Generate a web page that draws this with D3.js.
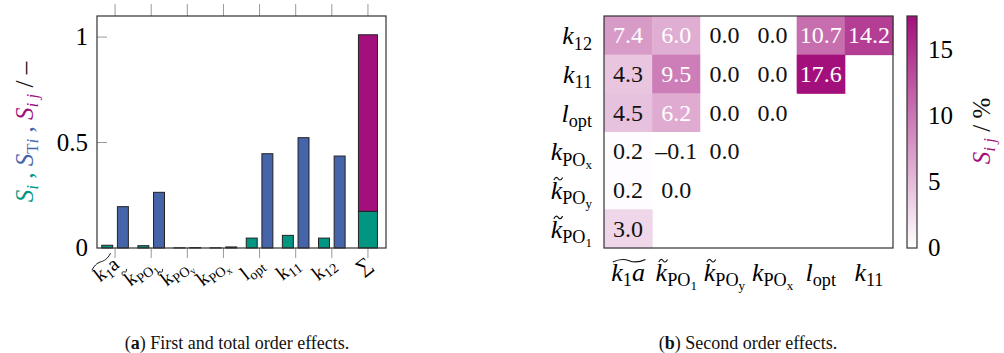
<!DOCTYPE html>
<html>
<head>
<meta charset="utf-8">
<script src="https://cdn.jsdelivr.net/npm/d3@7"></script>
</head>
<body style="margin:0">
<svg id="chart" width="1004" height="353"></svg>
<script>
// ---- data ----
var barCats = ["k1a", "kPO1", "kPOy", "kPOx", "lopt", "k11", "k12"];
var firstOrder = [0.013, 0.011, 0.001, 0.001, 0.047, 0.060, 0.047];
var totalOrder = [0.196, 0.264, 0.002, 0.005, 0.447, 0.523, 0.436];
var sumFirst = 0.174;
var sumSecond = 0.837;
var yTicks = [0, 0.5, 1];

var heatRows = ["k12", "k11", "lopt", "kPOx", "kPOy", "kPO1"];
var heatCols = ["k1a", "kPO1", "kPOy", "kPOx", "lopt", "k11"];
var sij = [
    [7.4, 6.0, 0.0, 0.0, 10.7, 14.2],
    [4.3, 9.5, 0.0, 0.0, 17.6, null],
    [4.5, 6.2, 0.0, 0.0, null, null],
    [0.2, -0.1, 0.0, null, null, null],
    [0.2, 0.0, null, null, null, null],
    [3.0, null, null, null, null, null]
];
var cbTicks = [0, 5, 10, 15];
var cbMax = 17.6;

var green = "#009682", blue = "#4664AA", violet = "#A3107C";
var FONT = "Liberation Serif";

// label markup: [text, level, italic]
var labelParts = {
    k1a:  { wide: true, parts: [["k", 0, true], ["1", 1, false], ["a", 0, true]] },
    kPO1: { tilde: true, parts: [["k", 0, true], ["PO", 1, false], ["1", 2, false]] },
    kPOy: { tilde: true, parts: [["k", 0, true], ["PO", 1, false], ["y", 2, false]] },
    kPOx: { parts: [["k", 0, true], ["PO", 1, false], ["x", 2, false]] },
    lopt: { parts: [["l", 0, true], ["opt", 1, false]] },
    k11:  { parts: [["k", 0, true], ["11", 1, false]] },
    k12:  { parts: [["k", 0, true], ["12", 1, false]] },
    sum:  { parts: [["\u2211", 0, false]] }
};

var svg = d3.select("#chart");

function txt(parent, size) {
    return parent.append("text")
        .attr("font-family", FONT)
        .style("font-family", FONT, "important")
        .style("font-size", size + "px");
}

function tilde(g, x0, w, y, size) {
    var a = size * 0.05;
    g.append("path")
        .attr("d", "M" + x0 + "," + (y + a) +
            " C" + (x0 + w * 0.25) + "," + (y - 2 * a) + " " + (x0 + w * 0.4) + "," + (y - a) + " " + (x0 + w * 0.5) + "," + y +
            " C" + (x0 + w * 0.6) + "," + (y + a) + " " + (x0 + w * 0.75) + "," + (y + 2 * a) + " " + (x0 + w) + "," + (y - a))
        .attr("fill", "none")
        .attr("stroke", "#111")
        .attr("stroke-width", size * 0.045);
}

// draws a label inside group g; widths for the tilde marks are measured after layout
function drawLabel(g, key, size, anchor, italicOn, yOff) {
    var info = labelParts[key];
    var y0 = yOff || 0;
    var t = txt(g, size).attr("text-anchor", anchor).attr("y", y0);
    var prevOff = 0;
    info.parts.forEach(function (p) {
        var lvl = p[1];
        var fs = size * [1, 0.7, 0.5][lvl];
        var off = [0, size * 0.2, size * 0.34][lvl];
        t.append("tspan")
            .attr("dy", (off - prevOff).toFixed(2))
            .style("font-size", fs + "px")
            .style("font-style", (p[2] && italicOn) ? "italic" : "normal")
            .text(p[0]);
        prevOff = off;
    });
    if (info.wide || info.tilde) {
        pending.push(function () {
            var b = t.node().getBBox();
            if (info.wide) {
                tilde(g, b.x + size * 0.06, b.width - size * 0.04, y0 - size * 0.78, size);
            } else {
                tilde(g, b.x + size * (italicOn ? 0.12 : 0.04), size * 0.34, y0 - size * 0.78, size);
            }
        });
    }
    return t;
}
var pending = [];

// ---- left panel: first and total order ----
var left = { x0: 97, x1: 386, y0: 16, y1: 248 };
var allCats = barCats.concat(["sum"]);

var xScale = d3.scaleBand().domain(allCats).range([left.x0, left.x1]);
var yScale = d3.scaleLinear().domain([0, 1.1]).range([left.y1, left.y0]);
var subScale = d3.scaleBand().domain(["Si", "STi"]).range([-13.3, 13.3]).paddingInner(0.3);

function cx(c) { return xScale(c) + xScale.bandwidth() / 2; }

var barData = barCats.map(function (c, i) { return { cat: c, Si: firstOrder[i], STi: totalOrder[i] }; });

// x ticks top and bottom
svg.append("g").selectAll("line.tt")
    .data(allCats).enter().append("line")
    .attr("x1", cx).attr("x2", cx)
    .attr("y1", left.y0 - 12).attr("y2", left.y0)
    .attr("stroke", "#999").attr("stroke-width", 1);
svg.append("g").selectAll("line.tb")
    .data(allCats).enter().append("line")
    .attr("x1", cx).attr("x2", cx)
    .attr("y1", left.y1).attr("y2", left.y1 + 10)
    .attr("stroke", "#999").attr("stroke-width", 1);

// y ticks
svg.append("g").selectAll("line")
    .data(yTicks.filter(function (d) { return d > 0; })).enter().append("line")
    .attr("x1", left.x0).attr("x2", left.x0 + 10)
    .attr("y1", yScale).attr("y2", yScale)
    .attr("stroke", "#999").attr("stroke-width", 1);
var yAxisG = svg.append("g");
yTicks.forEach(function (d) {
    txt(yAxisG, 25)
        .attr("x", left.x0 - 9)
        .attr("y", yScale(d) + 8)
        .attr("text-anchor", "end")
        .text(d == 0.5 ? "0.5" : d);
});

// bars
svg.append("g").selectAll("rect")
    .data(barData).enter().append("rect")
    .attr("x", function (d) { return cx(d.cat) + subScale("Si"); })
    .attr("y", function (d) { return yScale(d.Si); })
    .attr("width", subScale.bandwidth())
    .attr("height", function (d) { return yScale(0) - yScale(d.Si); })
    .attr("fill", green).attr("stroke", "#222").attr("stroke-width", 1);
svg.append("g").selectAll("rect")
    .data(barData).enter().append("rect")
    .attr("x", function (d) { return cx(d.cat) + subScale("STi"); })
    .attr("y", function (d) { return yScale(d.STi); })
    .attr("width", subScale.bandwidth())
    .attr("height", function (d) { return yScale(0) - yScale(d.STi); })
    .attr("fill", blue).attr("stroke", "#222").attr("stroke-width", 1);

// sum bar, stacked
var sumW = 19;
var stackData = [
    { lo: 0, hi: sumFirst, color: green },
    { lo: sumFirst, hi: sumFirst + sumSecond, color: violet }
];
svg.append("g").selectAll("rect")
    .data(stackData).enter().append("rect")
    .attr("x", cx("sum") - sumW / 2)
    .attr("y", function (d) { return yScale(d.hi); })
    .attr("width", sumW)
    .attr("height", function (d) { return yScale(d.lo) - yScale(d.hi); })
    .attr("fill", function (d) { return d.color; })
    .attr("stroke", "#222").attr("stroke-width", 1);

// frame
svg.append("rect")
    .attr("x", left.x0).attr("y", left.y0)
    .attr("width", left.x1 - left.x0).attr("height", left.y1 - left.y0)
    .attr("fill", "none").attr("stroke", "#333").attr("stroke-width", 1.2);

// rotated x labels
allCats.forEach(function (c) {
    var g = svg.append("g")
        .attr("transform", "translate(" + (cx(c) + 1) + "," + (left.y1 + 13) + ") rotate(-38)");
    drawLabel(g, c, 20, "end", false, 7);
});

// rich title helper: [text, color, italic, sub]
function richTitle(t, bits) {
    var down = false;
    bits.forEach(function (b) {
        var ts = t.append("tspan").attr("fill", b[1])
            .style("font-style", b[2] ? "italic" : "normal");
        if (b[3]) ts.style("font-size", "17px");
        if (b[3] && !down) { ts.attr("dy", 5); down = true; }
        if (!b[3] && down) { ts.attr("dy", -5); down = false; }
        ts.text(b[0]);
    });
}

// y axis title
var yt = txt(svg, 25)
    .attr("transform", "translate(33,132) rotate(-90)")
    .attr("text-anchor", "middle");
richTitle(yt, [
    ["S", green, true, false], ["i", green, true, true], [" , ", green, false, false],
    ["S", blue, true, false], ["T", blue, false, true], ["i", blue, true, true], [" , ", blue, false, false],
    ["S", violet, true, false], ["i j", violet, true, true], [" / \u2013", "#111", false, false]
]);

// ---- right panel: second order heatmap ----
var right = { x0: 604, x1: 893, y0: 16, y1: 248 };
var colScale = d3.scaleBand().domain(heatCols).range([right.x0, right.x1]);
var rowScale = d3.scaleBand().domain(heatRows).range([right.y0, right.y1]);
var colorScale = d3.scaleLinear().domain([0, cbMax]).range(["#ffffff", violet]).clamp(true);

var cells = [];
sij.forEach(function (row, i) {
    row.forEach(function (v, j) {
        if (v !== null) cells.push({ r: heatRows[i], c: heatCols[j], v: v });
    });
});

svg.append("g").selectAll("rect")
    .data(cells).enter().append("rect")
    .attr("x", function (d) { return colScale(d.c); })
    .attr("y", function (d) { return rowScale(d.r); })
    .attr("width", colScale.bandwidth() + 0.5)
    .attr("height", rowScale.bandwidth() + 0.5)
    .attr("fill", function (d) { return colorScale(d.v); });

var cellG = svg.append("g");
cells.forEach(function (d) {
    txt(cellG, 24)
        .attr("x", colScale(d.c) + colScale.bandwidth() / 2)
        .attr("y", rowScale(d.r) + rowScale.bandwidth() / 2 + 8)
        .attr("text-anchor", "middle")
        .attr("fill", d.v > 5 ? "#fff" : "#111")
        .text(d.v < 0 ? "\u2013" + Math.abs(d.v).toFixed(1) : d.v.toFixed(1));
});

svg.append("rect")
    .attr("x", right.x0).attr("y", right.y0)
    .attr("width", right.x1 - right.x0).attr("height", right.y1 - right.y0)
    .attr("fill", "none").attr("stroke", "#333").attr("stroke-width", 1.2);

// row labels
heatRows.forEach(function (r) {
    var g = svg.append("g")
        .attr("transform", "translate(592," + (rowScale(r) + rowScale.bandwidth() / 2 + 9) + ")");
    drawLabel(g, r, 26, "end", true);
});
// column labels
heatCols.forEach(function (c) {
    var g = svg.append("g")
        .attr("transform", "translate(" + (colScale(c) + colScale.bandwidth() / 2) + ",281)");
    drawLabel(g, c, 26, "middle", true);
});

// colorbar
var cb = { x: 907, w: 10 };
var cbScale = d3.scaleLinear().domain([0, cbMax]).range([right.y1, right.y0]);
var grad = svg.append("defs").append("linearGradient")
    .attr("id", "cbgrad").attr("x1", 0).attr("y1", 1).attr("x2", 0).attr("y2", 0);
grad.append("stop").attr("offset", 0).attr("stop-color", colorScale(0));
grad.append("stop").attr("offset", 1).attr("stop-color", colorScale(cbMax));
svg.append("rect")
    .attr("x", cb.x).attr("y", right.y0)
    .attr("width", cb.w).attr("height", right.y1 - right.y0)
    .attr("fill", "url(#cbgrad)").attr("stroke", "#333").attr("stroke-width", 1.2);
var cbAxisG = svg.append("g");
cbTicks.forEach(function (d) {
    txt(cbAxisG, 25).attr("x", 928).attr("y", cbScale(d) + 8).text(d);
});

var cbt = txt(svg, 25)
    .attr("transform", "translate(990,131) rotate(-90)")
    .attr("text-anchor", "middle");
richTitle(cbt, [["S", violet, true, false], ["i j", violet, true, true], [" / %", "#111", false, false]]);

// captions
function caption(x, letter, rest) {
    var t = txt(svg, 18).attr("x", x).attr("y", 349)
        .attr("text-anchor", "middle").attr("fill", "#111");
    t.append("tspan").text("(");
    t.append("tspan").style("font-weight", "bold").text(letter);
    t.append("tspan").text(") " + rest);
}
caption(237, "a", "First and total order effects.");
caption(748, "b", "Second order effects.");

pending.forEach(function (f) { f(); });
</script>
</body>
</html>
